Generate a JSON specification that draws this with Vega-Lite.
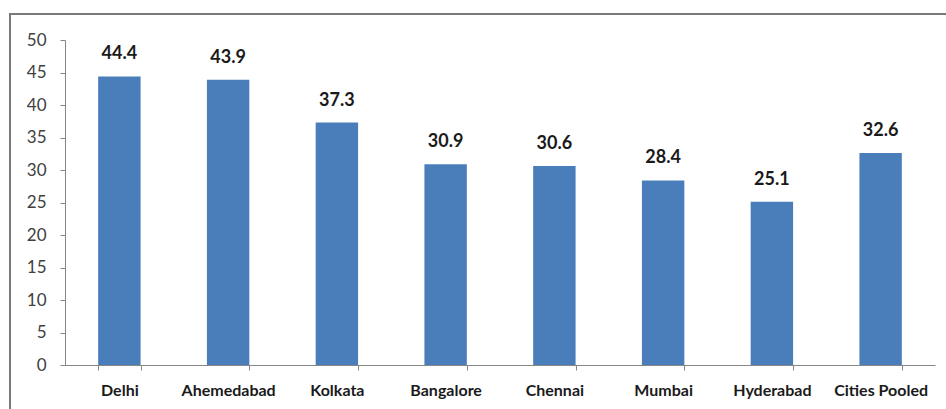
{
  "$schema": "https://vega.github.io/schema/vega-lite/v6.json",
  "autosize": {"type": "none"},
  "padding": {"left": 10, "top": 14, "right": -4, "bottom": -5},
  "width": 940,
  "height": 400,
  "background": "white",
  "config": {
    "view": {"stroke": "#7a7a7a", "strokeWidth": 2},
    "font": "Lato"
  },
  "data": {
    "values": [
      {"city": "Delhi", "value": 44.4},
      {"city": "Ahemedabad", "value": 43.9},
      {"city": "Kolkata", "value": 37.3},
      {"city": "Bangalore", "value": 30.9},
      {"city": "Chennai", "value": 30.6},
      {"city": "Mumbai", "value": 28.4},
      {"city": "Hyderabad", "value": 25.1},
      {"city": "Cities Pooled", "value": 32.6}
    ]
  },
  "encoding": {
    "x": {
      "field": "city",
      "type": "nominal",
      "sort": null,
      "scale": {"range": [55, 925], "paddingInner": 0.61, "paddingOuter": 0.305},
      "axis": {
        "title": null,
        "labelAngle": 0,
        "labelFont": "Lato",
        "labelFontWeight": "bold",
        "labelFontSize": 16,
        "labelColor": "#1a1a1a",
        "labelPadding": 12,
        "tickBand": "extent",
        "tickSize": 5,
        "tickColor": "#868686",
        "domainColor": "#868686",
        "offset": -49,
        "grid": false
      }
    },
    "y": {
      "field": "value",
      "type": "quantitative",
      "scale": {"domain": [0, 50], "range": [351, 26], "nice": false},
      "axis": {
        "title": null,
        "values": [0, 5, 10, 15, 20, 25, 30, 35, 40, 45, 50],
        "labelFont": "Lato",
        "labelFontSize": 17,
        "labelColor": "#404040",
        "labelPadding": 14,
        "tickSize": 5,
        "tickColor": "#868686",
        "domainColor": "#868686",
        "offset": -55,
        "grid": false
      }
    }
  },
  "layer": [
    {"mark": {"type": "bar", "color": "#4A7EBB"}},
    {
      "mark": {
        "type": "text",
        "dy": -13,
        "baseline": "bottom",
        "font": "Lato",
        "fontWeight": "bold",
        "fontSize": 18,
        "color": "#1a1a1a"
      },
      "encoding": {"text": {"field": "value", "type": "quantitative", "format": ".1f"}}
    }
  ]
}
